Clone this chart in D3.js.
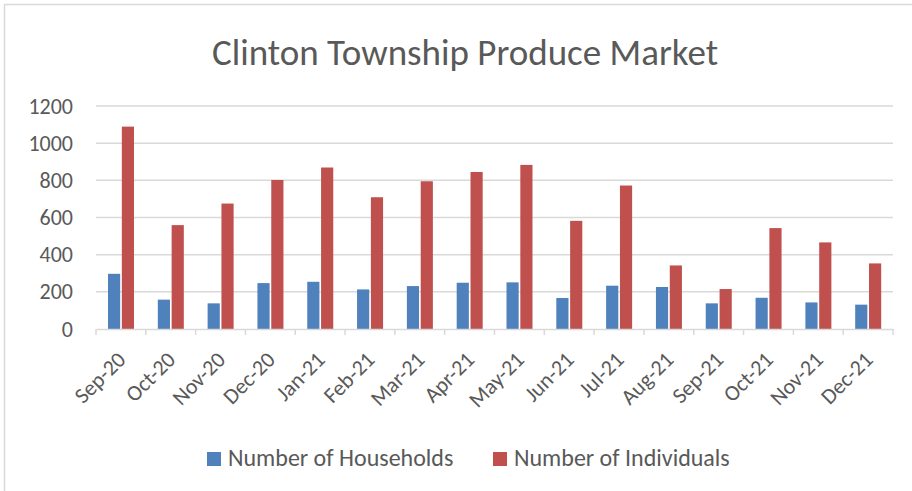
<!DOCTYPE html>
<html>
<head>
<meta charset="utf-8">
<script src="https://cdn.jsdelivr.net/npm/d3@7"></script>
<style>
body { margin: 0; background: #fff; }
svg { display: block; }
</style>
</head>
<body>
<svg width="912" height="491"></svg>
<script>
var width = 912, height = 491

// data
var months = ['Sep-20','Oct-20','Nov-20','Dec-20','Jan-21','Feb-21','Mar-21','Apr-21',
              'May-21','Jun-21','Jul-21','Aug-21','Sep-21','Oct-21','Nov-21','Dec-21']
var households = [297, 158, 138, 247, 254, 213, 231, 249, 251, 167, 233, 226, 138, 168, 143, 131]
var individuals = [1089, 559, 675, 802, 869, 709, 795, 845, 883, 582, 772, 342, 215, 543, 466, 353]
var seriesNames = ['Number of Households', 'Number of Individuals']
var colors = ['#4f81bd', '#c0504d']
var yTicks = [0, 200, 400, 600, 800, 1000, 1200]

var font = "Calibri, Carlito, 'Liberation Sans Narrow', 'Open Sans', sans-serif"
var svg = d3.select('svg')

// chart frame
svg.append('rect')
    .attr('x', 4.5).attr('y', 4.5)
    .attr('width', 912).attr('height', 500)
    .attr('fill', 'none')
    .attr('stroke', '#d9d9d9')
    .attr('stroke-width', 1.5)

var margin = {left: 96, right: 19, top: 106, bottom: 162}

var x = d3.scaleBand()
    .domain(months)
    .range([margin.left, width - margin.right])

var x1 = d3.scaleBand()
    .domain([0, 1])
    .range([12, 38])
    .paddingInner(0.12)

var y = d3.scaleLinear()
    .domain([0, 1200])
    .range([height - margin.bottom, margin.top])

// grid lines
svg.append('g')
    .selectAll('line')
    .data(yTicks.slice(1))
    .join('line')
    .attr('x1', margin.left)
    .attr('x2', width - margin.right)
    .attr('y1', d => y(d))
    .attr('y2', d => y(d))
    .attr('stroke', '#d9d9d9')
    .attr('stroke-width', 1.5)

// y axis labels
var yAxis = svg.append('g')
    .attr('transform', 'translate(' + (margin.left - 23) + ',0)')
    .call(d3.axisLeft(y).tickValues(yTicks).tickFormat(d3.format('d')).tickSize(0).tickPadding(0))
yAxis.select('.domain').remove()
yAxis.selectAll('text')
    .attr('font-family', font)
    .attr('font-size', 22)
    .attr('fill', '#595959')

// bars
var rows = months.map(function(m, i) {
    return {month: m, values: [households[i], individuals[i]]}
})

svg.append('g')
    .selectAll('g')
    .data(rows)
    .join('g')
    .attr('transform', d => 'translate(' + x(d.month) + ',0)')
    .selectAll('rect')
    .data(d => d.values.map(function(v, k) { return {k: k, v: v} }))
    .join('rect')
    .attr('x', d => x1(d.k))
    .attr('width', x1.bandwidth())
    .attr('y', d => y(d.v))
    .attr('height', d => y(0) - y(d.v))
    .attr('fill', d => colors[d.k])

// x axis
var xAxis = svg.append('g')
    .attr('transform', 'translate(0,' + y(0) + ')')
    .call(d3.axisBottom(x).tickSize(0).tickPadding(0))
xAxis.select('.domain').attr('stroke', '#d9d9d9').attr('stroke-width', 1.5)
xAxis.selectAll('.tick line').remove()

// tick marks between categories
xAxis.selectAll('.sep')
    .data(d3.range(months.length + 1))
    .join('line')
    .attr('class', 'sep')
    .attr('x1', function(i) { return margin.left + i * x.step() })
    .attr('x2', function(i) { return margin.left + i * x.step() })
    .attr('y1', 0).attr('y2', 6)
    .attr('stroke', '#d9d9d9')
    .attr('stroke-width', 1.5)

xAxis.selectAll('.tick text')
    .attr('font-family', font)
    .attr('font-size', 22)
    .attr('fill', '#595959')
    .attr('text-anchor', 'end')
    .attr('dy', 0)
    .attr('transform', 'translate(6,32) rotate(-45)')

// title
svg.append('text')
    .attr('x', 465)
    .attr('y', 65)
    .attr('text-anchor', 'middle')
    .attr('font-family', font)
    .attr('font-size', 37)
    .attr('fill', '#595959')
    .text('Clinton Township Produce Market')

// legend
var legend = svg.append('g')
    .selectAll('g')
    .data(seriesNames)
    .join('g')
    .attr('transform', (d, i) => 'translate(' + (207 + i * 286) + ',452)')
legend.append('rect')
    .attr('width', 14).attr('height', 14)
    .attr('fill', (d, i) => colors[i])
legend.append('text')
    .attr('x', 21)
    .attr('y', 14)
    .attr('font-family', font)
    .attr('font-size', 24)
    .attr('fill', '#595959')
    .text(d => d)
</script>
</body>
</html>
